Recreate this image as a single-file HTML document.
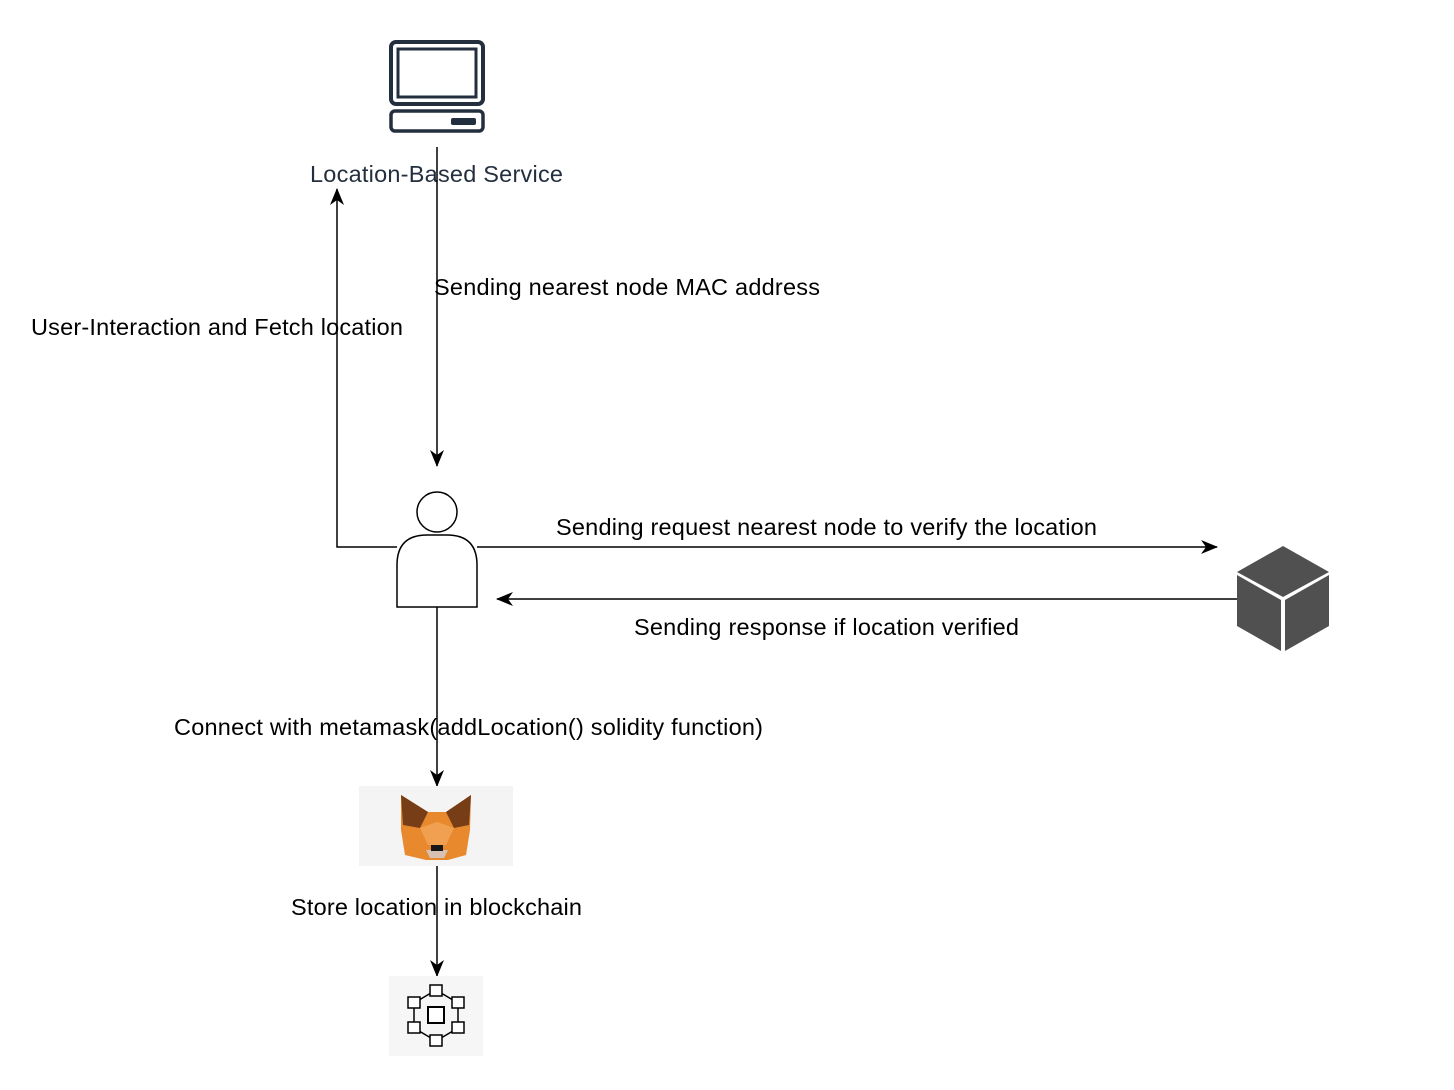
<!DOCTYPE html>
<html><head><meta charset="utf-8"><style>body{margin:0;background:#fff}svg{display:block}text{font-family:"Liberation Sans",Arial,sans-serif;font-size:23.5px;fill:#000}</style></head><body>
<svg width="1454" height="1090" viewBox="0 0 1454 1090">
<defs>
<marker id="b" markerWidth="18" markerHeight="18" refX="16" refY="9" orient="auto" markerUnits="userSpaceOnUse"><path d="M0,2 L17,9 L0,16 L5,9 Z" fill="#000"/></marker></defs>
<rect x="391" y="42" width="92" height="62" rx="5" fill="none" stroke="#232f3e" stroke-width="4"/>
<rect x="398" y="49" width="78" height="48" fill="none" stroke="#232f3e" stroke-width="3"/>
<rect x="391" y="111" width="92" height="20" rx="4" fill="none" stroke="#232f3e" stroke-width="3.5"/>
<rect x="451" y="118" width="25" height="7" rx="2" fill="#232f3e"/>
<text x="310" y="182" textLength="253" style="fill:#232f3e">Location-Based Service</text>
<line x1="437" y1="147" x2="437" y2="466" stroke="#000" stroke-width="1.5" marker-end="url(#b)"/>
<polyline points="397,547 337,547 337,189" fill="none" stroke="#000" stroke-width="1.5" marker-end="url(#b)"/>
<line x1="477" y1="547" x2="1217" y2="547" stroke="#000" stroke-width="1.5" marker-end="url(#b)"/>
<line x1="1237" y1="599" x2="497" y2="599" stroke="#000" stroke-width="1.5" marker-end="url(#b)"/>
<line x1="437" y1="607" x2="437" y2="786" stroke="#000" stroke-width="1.5" marker-end="url(#b)"/>
<line x1="437" y1="866" x2="437" y2="976" stroke="#000" stroke-width="1.5" marker-end="url(#b)"/>
<text x="434" y="295" textLength="386">Sending nearest node MAC address</text>
<text x="31" y="335" textLength="372">User-Interaction and Fetch location</text>
<text x="556" y="535" textLength="541">Sending request nearest node to verify the location</text>
<text x="634" y="635" textLength="385">Sending response if location verified</text>
<text x="174" y="735" textLength="589">Connect with metamask(addLocation() solidity function)</text>
<text x="291" y="915" textLength="291">Store location in blockchain</text>
<circle cx="437" cy="512" r="20" fill="#fff" stroke="#000" stroke-width="1.5"/>
<path d="M397,607 L397,565 Q397,535 427,535 L447,535 Q477,535 477,565 L477,607 Z" fill="#fff" stroke="#000" stroke-width="1.5"/>
<polygon points="1283,546 1329,572 1283,597 1237,572" fill="#505050"/>
<polygon points="1237,575 1281,600 1281,651 1237,626" fill="#505050"/>
<polygon points="1285,600 1329,575 1329,626 1285,651" fill="#505050"/>
<rect x="359" y="786" width="154" height="80" fill="#f4f4f4"/>
<polygon points="401,795 428,812 446,812 471,795 470,830 466,855 448,860 426,860 405,855 401,830" fill="#e8892e"/>
<polygon points="401,795 428,812 420,828 403,825" fill="#763d16"/>
<polygon points="471,795 446,812 454,828 469,825" fill="#763d16"/>
<polygon points="420,828 437,822 454,828 446,845 428,845" fill="#f0a050"/>
<polygon points="426,850 448,850 444,858 430,858" fill="#d7c1b3"/>
<rect x="431" y="845" width="12" height="6" fill="#161616"/>
<rect x="389" y="976" width="94" height="80" fill="#f6f6f6"/>
<g fill="#fff" stroke="#000" stroke-width="1.5">
<line x1="436" y1="990" x2="458" y2="1003"/><line x1="458" y1="1003" x2="458" y2="1028"/><line x1="458" y1="1028" x2="436" y2="1041"/><line x1="436" y1="1041" x2="414" y2="1028"/><line x1="414" y1="1028" x2="414" y2="1003"/><line x1="414" y1="1003" x2="436" y2="990"/>
<rect x="430" y="985" width="12" height="11"/><rect x="452" y="997" width="12" height="11"/><rect x="452" y="1022" width="12" height="11"/><rect x="430" y="1035" width="12" height="11"/><rect x="408" y="1022" width="12" height="11"/><rect x="408" y="997" width="12" height="11"/>
<rect x="428" y="1007" width="16" height="16" stroke-width="2"/>
</g>
</svg>
</body></html>
